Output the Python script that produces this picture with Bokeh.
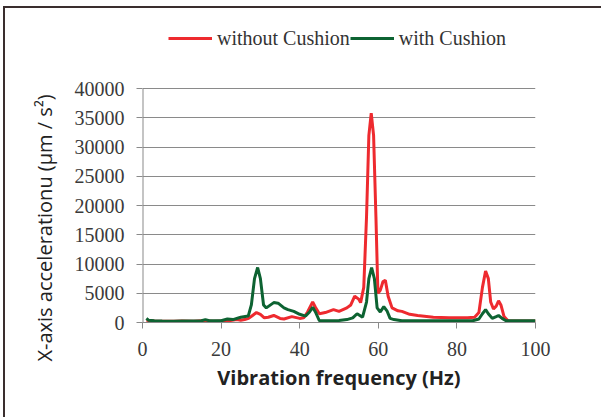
from bokeh.plotting import figure
from bokeh.models import FixedTicker, Legend, LegendItem, Title
from bokeh.layouts import column
from bokeh.embed import file_html
from bokeh.resources import INLINE

# ---- data ----
freq_without = [1, 3, 5, 8, 10, 13, 15, 18, 20, 22, 24, 25, 26, 27, 28, 29, 30, 31, 32, 33.4,
                35, 36, 38, 40, 41, 42, 43.3, 44, 45, 46.5, 48.6, 50, 52, 53, 54, 55, 55.5,
                56.3, 57, 57.6, 58.2, 58.8, 59.4, 59.9, 60.5, 61.2, 61.8, 62.5, 63.5, 65, 66,
                68, 70, 74, 78, 82.7, 84.5, 85.6, 86.5, 87.3, 88, 88.6, 89.3, 90, 90.6, 91.2,
                92, 93, 95, 100]
acc_without = [400, 250, 200, 200, 250, 200, 300, 200, 250, 300, 500, 400, 500, 700, 1200, 1700,
               1400, 800, 900, 1200, 700, 600, 1000, 700, 800, 1800, 3500, 2600, 1500, 1700,
               2200, 1900, 2500, 3000, 4500, 4000, 3400, 6000, 18000, 32000, 35800, 32000,
               18000, 5000, 5500, 7000, 7200, 4500, 2500, 2000, 1900, 1400, 1200, 900, 800,
               800, 900, 1700, 6000, 8800, 7500, 3500, 2300, 2800, 3700, 3000, 1000, 300,
               250, 250]

freq_with = [1, 1.5, 3, 5, 8, 10, 13, 15, 16, 17, 20, 21.6, 23, 25, 26.9, 27.7, 28.5, 29.3, 30,
             30.8, 31.5, 33.4, 34.5, 36, 37, 38.5, 40, 41.5, 42.5, 43.3, 44, 45, 46.5, 48.6,
             50, 52, 53.5, 54.6, 56, 57, 57.6, 58.3, 59, 59.7, 60.5, 61.4, 62.2, 63, 64, 66,
             70, 75, 80, 84, 85.6, 86.5, 87.3, 88, 89, 90, 90.6, 91.5, 92.5, 95, 100]
acc_with = [700, 400, 300, 250, 200, 250, 250, 300, 500, 300, 300, 600, 500, 900, 1100, 3000,
            7500, 9400, 7500, 3000, 2500, 3400, 3300, 2500, 2200, 1900, 1400, 1100, 1800, 2600,
            1800, 300, 300, 300, 350, 500, 800, 1500, 900, 3500, 7500, 9400, 7500, 2500, 1800,
            2700, 2000, 700, 500, 300, 300, 300, 300, 300, 600, 1500, 2200, 1500, 700, 1000,
            1200, 700, 300, 300, 300]

series_names = ["without Cushion", "with Cushion"]
series_colors = ["#ee2a2f", "#0d6332"]

x_ticks = [0, 20, 40, 60, 80, 100]
y_ticks = [0, 5000, 10000, 15000, 20000, 25000, 30000, 35000, 40000]

x_title = "Vibration frequency (Hz)"
y_title = "X-axis accelerationu (\u03bcm / s\u00b2)"

# frame is taller than the data axis so that the legend fits inside it
y_top = y_ticks[-1] * 304 / 234

# ---- figure ----
p = figure(width=598, height=411, x_range=(0, 100), y_range=(0, y_top),
           output_backend="svg", toolbar_location=None,
           min_border_left=137, min_border_right=68, min_border_top=10, min_border_bottom=97)
p.outline_line_color = None
p.background_fill_color = "white"
p.border_fill_color = "white"

r1 = p.line(freq_without, acc_without, line_color=series_colors[0], line_width=3)
r2 = p.line(freq_with, acc_with, line_color=series_colors[1], line_width=3)

# visible part of the vertical axis line (0 .. 40000)
p.segment(x0=[x_ticks[0]], y0=[y_ticks[0]], x1=[x_ticks[0]], y1=[y_ticks[-1]],
          line_color="#8a8a8a", line_width=2)

# axes
p.xaxis.ticker = FixedTicker(ticks=x_ticks)
p.yaxis.ticker = FixedTicker(ticks=y_ticks)
for ax in (p.xaxis[0], p.yaxis[0]):
    ax.axis_line_color = "#8a8a8a"
    ax.axis_line_width = 1
    ax.major_tick_line_color = "#8a8a8a"
    ax.major_tick_out = 6
    ax.major_tick_in = 0
    ax.minor_tick_line_color = None
    ax.major_label_text_font = "Liberation Serif"
    ax.major_label_text_font_size = "20px"
    ax.major_label_text_color = "#3a3a3a"
    ax.axis_label_text_font = "Open Sans"
    ax.axis_label_text_color = "#222222"
p.yaxis.axis_line_color = None

p.yaxis.major_label_standoff = 12
p.xaxis.major_label_standoff = 13
p.xaxis.axis_label = x_title
p.xaxis.axis_label_text_font_size = "20px"
p.xaxis.axis_label_text_font_style = "bold"
p.xaxis.axis_label_standoff = 5

ytitle = Title(text=y_title, align="left", offset=-39, vertical_align="bottom",
               standoff=28, text_font="Open Sans", text_font_size="20px",
               text_font_style="normal", text_color="#222222")
p.add_layout(ytitle, "left")

p.xgrid.grid_line_color = None
p.ygrid.ticker = FixedTicker(ticks=y_ticks)
p.ygrid.grid_line_color = "#8a8a8a"
p.ygrid.grid_line_width = 1

legend = Legend(items=[LegendItem(label=series_names[0], renderers=[r1]),
                       LegendItem(label=series_names[1], renderers=[r2])],
                orientation="horizontal", location=(26, 272),
                spacing=0, padding=0, margin=0, glyph_width=44, glyph_height=24,
                label_height=24, label_standoff=5, label_text_font="Liberation Serif",
                label_text_font_size="20px", label_text_color="#333333",
                border_line_alpha=0, background_fill_alpha=0)
p.add_layout(legend, "center")

# outer frame of the picture: only its left and top edges show
layout = column(p, styles={"margin-left": "5px", "margin-top": "8px",
                           "box-shadow": "-2px -2px 0 0 #3a2e2e"})

open("out.html", "w").write(file_html(layout, INLINE))
